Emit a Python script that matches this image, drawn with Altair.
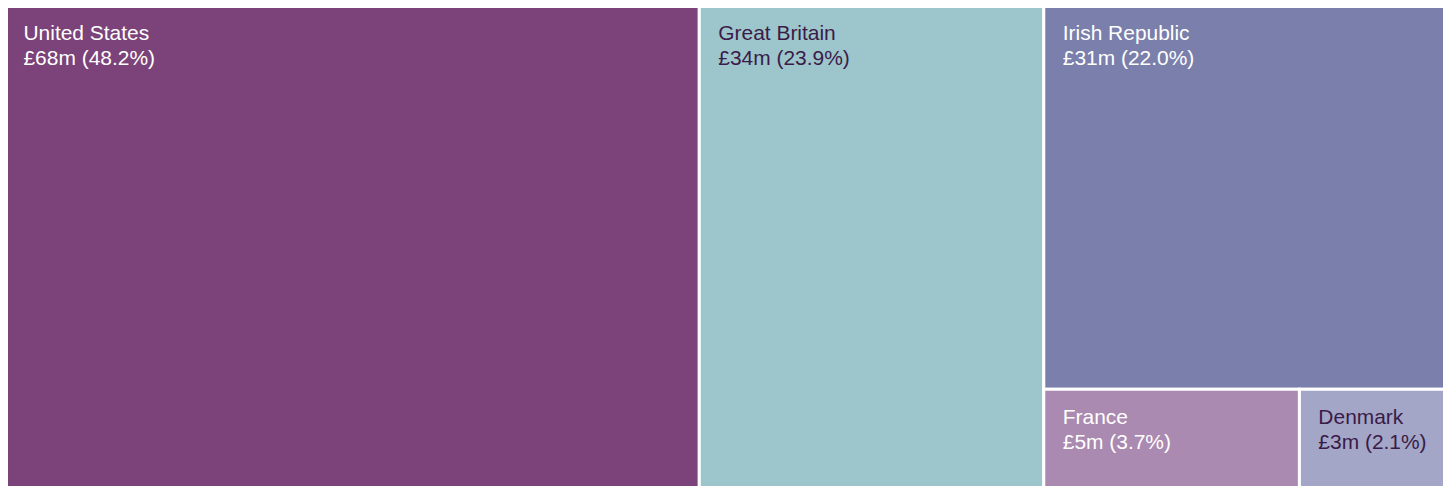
import altair as alt
import pandas as pd

countries = ["United States", "Great Britain", "Irish Republic", "France", "Denmark"]
amounts = ["£68m", "£34m", "£31m", "£5m", "£3m"]
shares = [48.2, 23.9, 22.0, 3.7, 2.1]
fills = ["#7B4379", "#9DC6CC", "#7B7FAB", "#AA8AB0", "#A3A6C7"]
text_colors = ["#FFFFFF", "#3A1B48", "#FFFFFF", "#FFFFFF", "#3A1B48"]

# layout space (aspect of the treemap area)
W, H = 1443.0, 486.5


def worst(row, side, scale):
    s = sum(row) * scale
    if s == 0:
        return float("inf")
    mx, mn = max(row) * scale, min(row) * scale
    return max(side * side * mx / (s * s), (s * s) / (side * side * mn))


def squarify(vals, x, y, w, h, out):
    if not vals:
        return
    total = sum(v for _, v in vals)
    scale = (w * h) / total
    side = min(w, h)
    row = [vals[0]]
    i = 1
    while i < len(vals):
        cand = row + [vals[i]]
        if worst([v for _, v in cand], side, scale) <= worst([v for _, v in row], side, scale):
            row = cand
            i += 1
        else:
            break
    rsum = sum(v for _, v in row) * scale
    if w >= h:
        cw = rsum / h
        cy = y
        for k, v in row:
            hh = v * scale / cw
            out[k] = (x, x + cw, cy, cy + hh)
            cy += hh
        squarify(vals[i:], x + cw, y, w - cw, h, out)
    else:
        rh = rsum / w
        cx = x
        for k, v in row:
            ww = v * scale / rh
            out[k] = (cx, cx + ww, y, y + rh)
            cx += ww
        squarify(vals[i:], x, y + rh, w, h - rh, out)


layout = {}
squarify(list(enumerate(shares)), 0.0, 0.0, W, H, layout)

df = pd.DataFrame({
    "country": countries,
    "label": [f"{c}\n{a} ({s:.1f}%)" for c, a, s in zip(countries, amounts, shares)],
    "fill": fills,
    "tcolor": text_colors,
    "x0": [layout[i][0] for i in range(len(countries))],
    "x1": [layout[i][1] for i in range(len(countries))],
    "y0": [layout[i][2] for i in range(len(countries))],
    "y1": [layout[i][3] for i in range(len(countries))],
})

xs = alt.Scale(domain=[0, W], range=[-3.5, 1439.5])
ys = alt.Scale(domain=[0, H], range=[-3.5, 483])

base = alt.Chart(df)
rects = base.mark_rect(stroke="white", strokeWidth=3).encode(
    x=alt.X("x0:Q", scale=xs, axis=None),
    x2="x1:Q",
    y=alt.Y("y0:Q", scale=ys, axis=None),
    y2="y1:Q",
    color=alt.Color("fill:N", scale=None),
)
texts = base.mark_text(
    align="left", baseline="top", dx=19, dy=18, fontSize=21,
    font="Liberation Sans", lineBreak="\n", lineHeight=25,
).encode(
    x=alt.X("x0:Q", scale=xs, axis=None),
    y=alt.Y("y0:Q", scale=ys, axis=None),
    text="label:N",
    color=alt.Color("tcolor:N", scale=None),
)

chart = (rects + texts).properties(
    width=1440, height=478, padding=0, autosize="none"
).configure_view(stroke=None)

chart.save("out.html", embed_options={"renderer": "svg", "actions": False})
